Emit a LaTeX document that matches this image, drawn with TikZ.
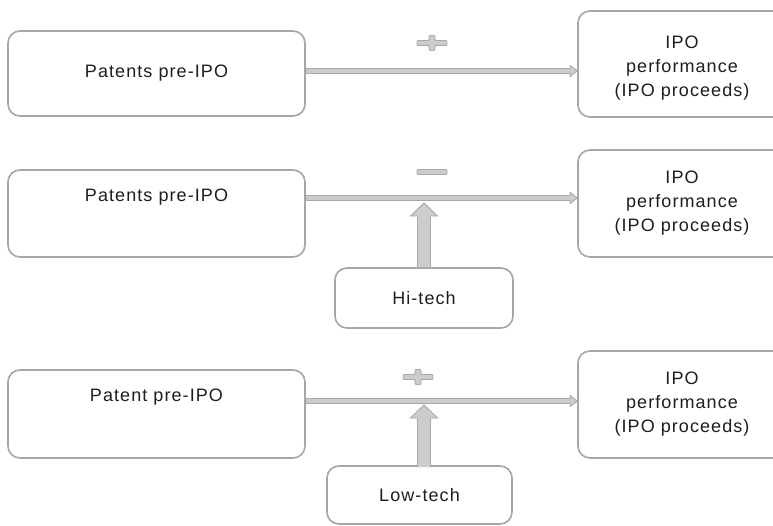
\documentclass[tikz,border=0pt]{standalone}
\usepackage{fontspec}
\setmainfont[LetterSpace=6]{Liberation Sans}
\usetikzlibrary{calc}
\definecolor{boxline}{HTML}{A6A6A6}
\definecolor{arrfill}{HTML}{CCCCCC}
\definecolor{arrline}{HTML}{A8A8A8}
\definecolor{txt}{HTML}{1E1E1E}
\tikzset{
  box/.style={draw=boxline, line width=1.6pt, rounded corners=12pt, fill=white, inner sep=0pt},
  lbl/.style={font=\fontsize{18}{24}\selectfont, text=txt, align=center, inner sep=0pt},
  harrow/.style={fill=arrfill, draw=arrline, line width=0.9pt, line join=miter},
  varrow/.style={fill=arrfill, draw=arrline, line width=0.9pt},
  sign/.style={fill=arrfill, draw=arrline, line width=0.9pt, rounded corners=1pt},
}
\begin{document}
\begin{tikzpicture}[x=1pt,y=-1pt]
\clip (0,0) rectangle (773,526);
\fill[white] (0,0) rectangle (773,526);

% ---- Row 1 ----
\node[box, minimum width=297pt, minimum height=85pt] (p1) at (156.5,73.5) {};
\node[lbl] (p1t) at (p1.center) {Patents pre-IPO};
\node[box, minimum width=208pt, minimum height=106pt] (r1) at (682,64) {};
\node[lbl] (r1t) at (682,68) {IPO\\performance\\(IPO proceeds)};
\coordinate (s1) at (p1.east |- 0,71);
\coordinate (e1) at (r1.west |- 0,71);
\draw[harrow] ($(s1)+(0,-2.5)$) -- ($(e1)+(-7,-2.5)$) -- ($(e1)+(-7,-5.5)$) -- (e1) -- ($(e1)+(-7,5.5)$) -- ($(e1)+(-7,2.5)$) -- ($(s1)+(0,2.5)$) -- cycle;
\coordinate (g1) at (432,43);
\draw[sign] ($(g1)+(-15,-2.5)$) -- ($(g1)+(-3,-2.5)$) -- ($(g1)+(-3,-7.5)$) -- ($(g1)+(3,-7.5)$) -- ($(g1)+(3,-2.5)$) -- ($(g1)+(15,-2.5)$) -- ($(g1)+(15,2.5)$) -- ($(g1)+(3,2.5)$) -- ($(g1)+(3,7.5)$) -- ($(g1)+(-3,7.5)$) -- ($(g1)+(-3,2.5)$) -- ($(g1)+(-15,2.5)$) -- cycle;

% ---- Row 2 ----
\node[box, minimum width=297pt, minimum height=87pt] (p2) at (156.5,213.5) {};
\node[lbl] (p2t) at (156.5,197) {Patents pre-IPO};
\node[box, minimum width=208pt, minimum height=107pt] (r2) at (682,203.5) {};
\node[lbl] (r2t) at (682,203) {IPO\\performance\\(IPO proceeds)};
\coordinate (s2) at (p2.east |- 0,198);
\coordinate (e2) at (r2.west |- 0,198);
\draw[harrow] ($(s2)+(0,-2.5)$) -- ($(e2)+(-7,-2.5)$) -- ($(e2)+(-7,-5.5)$) -- (e2) -- ($(e2)+(-7,5.5)$) -- ($(e2)+(-7,2.5)$) -- ($(s2)+(0,2.5)$) -- cycle;
\coordinate (g2) at (432,172);
\draw[sign] ($(g2)+(-15,-2.5)$) rectangle ($(g2)+(15,2.5)$);
\node[box, minimum width=178pt, minimum height=60pt] (h) at (424,298) {};
\node[lbl] (ht) at (h.center) {Hi-tech};
\coordinate (t2) at (h.north |- 0,203);
\draw[varrow] ($(h.north)+(-6.5,0)$) -- ($(t2)+(-6.5,13)$) -- ($(t2)+(-13.5,13)$) -- (t2) -- ($(t2)+(13.5,13)$) -- ($(t2)+(6.5,13)$) -- ($(h.north)+(6.5,0)$);

% ---- Row 3 ----
\node[box, minimum width=297pt, minimum height=88pt] (p3) at (156.5,414) {};
\node[lbl] (p3t) at (156.5,397) {Patent pre-IPO};
\node[box, minimum width=208pt, minimum height=107pt] (r3) at (682,404.5) {};
\node[lbl] (r3t) at (682,404) {IPO\\performance\\(IPO proceeds)};
\coordinate (s3) at (p3.east |- 0,401);
\coordinate (e3) at (r3.west |- 0,401);
\draw[harrow] ($(s3)+(0,-2.5)$) -- ($(e3)+(-7,-2.5)$) -- ($(e3)+(-7,-5.5)$) -- (e3) -- ($(e3)+(-7,5.5)$) -- ($(e3)+(-7,2.5)$) -- ($(s3)+(0,2.5)$) -- cycle;
\coordinate (g3) at (418,377);
\draw[sign] ($(g3)+(-15,-2.5)$) -- ($(g3)+(-3,-2.5)$) -- ($(g3)+(-3,-7.5)$) -- ($(g3)+(3,-7.5)$) -- ($(g3)+(3,-2.5)$) -- ($(g3)+(15,-2.5)$) -- ($(g3)+(15,2.5)$) -- ($(g3)+(3,2.5)$) -- ($(g3)+(3,7.5)$) -- ($(g3)+(-3,7.5)$) -- ($(g3)+(-3,2.5)$) -- ($(g3)+(-15,2.5)$) -- cycle;
\node[box, minimum width=185pt, minimum height=58pt] (l) at (419.5,495) {};
\node[lbl] (lt) at (l.center) {Low-tech};
\coordinate (t3) at (424,405);
\coordinate (b3) at (424,467);
\draw[varrow] ($(b3)+(-6.5,0)$) -- ($(t3)+(-6.5,13)$) -- ($(t3)+(-13.5,13)$) -- (t3) -- ($(t3)+(13.5,13)$) -- ($(t3)+(6.5,13)$) -- ($(b3)+(6.5,0)$);
\end{tikzpicture}
\end{document}
